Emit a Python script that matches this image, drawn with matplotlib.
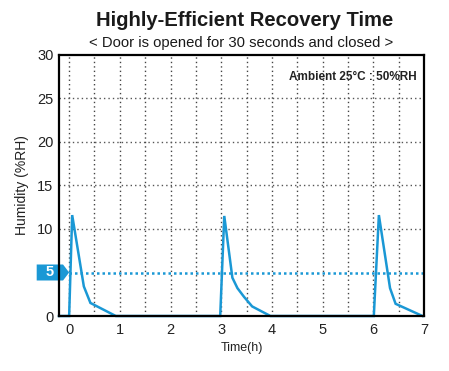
import matplotlib
matplotlib.use("Agg")
import matplotlib.pyplot as plt
from matplotlib.patches import Polygon
import numpy as np

plt.rcParams['font.family'] = ['Liberation Sans', 'DejaVu Sans']

# Data
time_h = [-0.2, 0.0, 0.06, 0.29, 0.42, 0.92, 2.98, 3.06, 3.22, 3.32, 3.45, 3.61, 3.97,
          6.01, 6.11, 6.33, 6.44, 6.97]
humidity = [0, 0, 11.6, 3.4, 1.5, 0, 0, 11.5, 4.4, 3.2, 2.2, 1.1, 0,
            0, 11.6, 3.2, 1.4, 0]
threshold = 5
x_ticks = [0, 1, 2, 3, 4, 5, 6, 7]
y_ticks = [0, 5, 10, 15, 20, 25, 30]

title = "Highly-Efficient Recovery Time"
subtitle = "< Door is opened for 30 seconds and closed >"
ambient = "Ambient 25°C : 50%RH"

blue = '#1a98d5'

fig = plt.figure(figsize=(4.49, 3.71), dpi=100)
ax = fig.add_axes([59/449, 1-316/371, 365/449, 261/371])

ax.set_xlim(-0.2, 7)
ax.set_ylim(0, 30)

# grid
for gx in np.arange(0, 7.01, 0.5):
    ax.axvline(gx, color='#444444', lw=1.0, ls=(0, (1, 2.2)), zorder=1)
for gy in [10, 15, 20, 25]:
    ax.axhline(gy, color='#555555', lw=1.0, ls=(0, (1, 2.2)), zorder=1)

# threshold line
ax.plot([0, 7], [threshold, threshold], color=blue, lw=1.8, ls=(0, (1, 1.2)), zorder=2)

# curve
ax.plot(time_h, humidity, color=blue, lw=1.8, zorder=3, clip_on=False,
        solid_joinstyle='miter')

# threshold marker
h = 0.92
poly = Polygon([[-0.64, threshold - h], [-0.12, threshold - h], [0.0, threshold],
                [-0.12, threshold + h], [-0.64, threshold + h]],
               closed=True, facecolor=blue, edgecolor='none', clip_on=False, zorder=4)
ax.add_patch(poly)
ax.text(-0.39, threshold, str(threshold), color='white', fontsize=10.5, fontweight='bold',
        ha='center', va='center', clip_on=False, zorder=5)

ax.set_xticks(x_ticks)
ax.set_yticks(y_ticks)
ax.set_yticklabels([str(v) if v != threshold else '' for v in y_ticks])
ax.tick_params(axis='both', length=0, labelsize=10.5, pad=4, colors='#222222')
ax.tick_params(axis='x', pad=5)

for s in ax.spines.values():
    s.set_linewidth(1.6)
    s.set_color('black')
    s.set_zorder(6)

ax.set_xlabel("Time(h)", fontsize=9, labelpad=4, color='#222222')
ax.set_ylabel("Humidity (%RH)", fontsize=10, labelpad=6, color='#222222')

ax.text(0.98, 0.915, ambient, transform=ax.transAxes, ha='right', va='center',
        fontsize=8.5, fontweight='bold', color='#222222')

fig.text(245/449, 1-20/371, title, ha='center', va='center', fontsize=14.6,
         fontweight='bold', color='#1a1a1a')
fig.text(241/449, 1-43/371, subtitle, ha='center', va='center', fontsize=10.7,
         color='#1a1a1a')

fig.savefig('out.png', dpi=100)
